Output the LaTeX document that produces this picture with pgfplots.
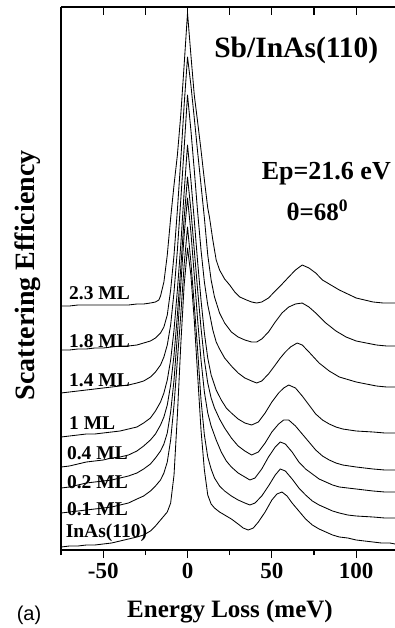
\documentclass[border=0pt]{standalone}
\usepackage{pgfplots}
\pgfplotsset{compat=1.18}
\usepackage{fontspec}
\setmainfont{Liberation Serif}
\newfontfamily\arialfont{Liberation Sans}
\begin{document}
\begin{tikzpicture}[x=1pt,y=1pt]
\useasboundingbox (0,0) rectangle (395,628);
\pgfplotsset{
  curve/.style={black, line width=0.85pt, mark=none, line join=round, solid},
}
\begin{axis}[
  at={(61pt,78pt)}, anchor=south west,
  width=334pt, height=543pt, scale only axis,
  xmin=-75, xmax=123, ymin=7, ymax=550, y dir=reverse,
  xtick={-50,0,50,100}, minor xtick={-75,-25,25,75},
  axis line style={line width=1.4pt},
  every tick/.style={black, line width=1.2pt},
  axis x line*=bottom, axis y line*=left,
  ytick=\empty,
  tick align=outside,
  major tick length=8pt, minor tick length=5pt,
  xticklabels={{-50},{0},{50},{100}},
  xticklabel style={font=\bfseries\fontsize{23}{23}\selectfont, yshift=-2pt},
  xlabel={Energy Loss (meV)},
  xlabel style={font=\bfseries\fontsize{25}{25}\selectfont, at={(axis description cs:0.506,-0.114)}, anchor=center},
  ylabel={Scattering Efficiency},
  ylabel style={font=\bfseries\fontsize{28}{28}\selectfont, at={(axis description cs:-0.0988,0.506)}, anchor=center},
  clip mode=individual,
]
% 2.3 ML
\addplot[curve] coordinates {(-75,306)(-70,306)(-65,305)(-60,305)(-55,305)(-50,305)(-45,305)(-40,305)(-35,305)(-30,304)(-26,304)(-22,303)(-19,302)(-17,300)(-16,296)(-14,282)(-12,255)(-10,218)(-8,185)(-6,155)(-4,115)(-2,65)(0,13)(2,55)(4,95)(6,122)(8,150)(10,180)(12,208)(13,217)(15,240)(17,260)(19,270)(22,279)(25,285)(28,292)(31,297)(35,300)(38,302)(41,303)(44,302)(48,298)(52,291)(55,286)(60,277)(64,270)(68,265)(72,268)(76,273)(80,280)(85,285)(90,290)(95,294)(100,298)(105,300)(110,302)(116,303)(123,303)};
% 1.8 ML
\addplot[curve] coordinates {(-75,350)(-70,350)(-65,349)(-60,349)(-55,348)(-50,348)(-45,347)(-40,346)(-35,346)(-30,345)(-26,343)(-22,341)(-19,338)(-16,333)(-14,327)(-12,315)(-10,290)(-8,255)(-6,210)(-4,160)(-2,105)(0,57)(2,85)(4,118)(6,152)(8,185)(10,218)(12,255)(14,280)(16,297)(19,313)(22,323)(26,332)(30,337)(34,340)(38,342)(41,342)(44,339)(48,332)(52,322)(56,313)(60,307)(64,304)(68,303)(72,307)(76,313)(82,323)(88,331)(94,337)(100,341)(106,343)(112,345)(118,346)(123,346)};
% 1.4 ML
\addplot[curve] coordinates {(-75,393)(-70,392)(-65,391)(-60,390)(-55,389)(-50,388)(-45,387)(-40,386)(-35,385)(-30,383)(-26,381)(-22,377)(-19,372)(-16,365)(-14,357)(-12,345)(-10,325)(-8,292)(-6,250)(-4,200)(-2,148)(0,95)(2,130)(4,170)(6,212)(8,250)(10,282)(12,305)(13,313)(15,330)(17,342)(19,349)(22,358)(26,366)(30,373)(34,378)(38,381)(41,383)(44,381)(48,374)(52,365)(55,358)(58,352)(61,347)(65,343)(68,345)(72,352)(78,363)(84,371)(90,377)(96,380)(100,382)(106,384)(112,386)(118,387)(123,387)};
% 1 ML
\addplot[curve] coordinates {(-75,437)(-70,436)(-65,435)(-60,434)(-55,434)(-50,433)(-45,432)(-40,431)(-35,429)(-30,427)(-26,423)(-22,418)(-19,411)(-16,402)(-14,393)(-12,380)(-10,360)(-8,330)(-6,290)(-4,245)(-2,192)(0,145)(2,180)(4,220)(6,262)(8,300)(10,333)(12,358)(14,375)(17,390)(20,400)(23,408)(26,413)(30,419)(34,423)(38,425)(42,422)(46,413)(50,402)(54,393)(57,388)(60,385)(64,388)(68,396)(72,405)(76,414)(80,420)(84,424)(88,427)(92,429)(96,430)(100,431)(110,432)(117,433)(123,433)};
% 0.4 ML
\addplot[curve] coordinates {(-75,467)(-70,466)(-65,464)(-60,462)(-55,461)(-50,460)(-45,458)(-40,457)(-35,455)(-30,451)(-26,446)(-22,440)(-19,434)(-16,425)(-14,417)(-12,405)(-10,385)(-8,355)(-6,315)(-4,268)(-2,218)(0,177)(2,210)(4,250)(6,290)(8,328)(10,360)(12,383)(14,398)(16,408)(19,419)(22,428)(26,438)(30,446)(34,451)(38,455)(42,452)(46,443)(50,432)(54,424)(57,420)(60,420)(64,426)(68,434)(72,442)(76,450)(80,456)(84,460)(88,463)(92,465)(96,466)(100,467)(110,469)(117,470)(123,470)};
% 0.2 ML
\addplot[curve] coordinates {(-75,488)(-70,487)(-65,485)(-60,483)(-55,482)(-50,481)(-45,480)(-40,478)(-35,476)(-30,473)(-26,469)(-22,464)(-19,458)(-16,451)(-14,444)(-12,433)(-10,412)(-8,380)(-6,335)(-4,285)(-2,235)(0,198)(2,232)(4,275)(6,320)(8,360)(10,392)(12,413)(14,426)(17,440)(20,452)(23,461)(26,467)(30,473)(34,477)(37,480)(40,478)(44,469)(48,457)(52,447)(55,442)(58,444)(62,452)(66,462)(70,469)(74,474)(78,479)(82,482)(86,485)(90,487)(95,488)(100,489)(110,491)(117,492)(123,492)};
% 0.1 ML
\addplot[curve] coordinates {(-75,513)(-70,512)(-65,511)(-60,510)(-55,509)(-50,508)(-45,507)(-40,505)(-35,503)(-30,499)(-26,496)(-22,491)(-19,486)(-16,480)(-14,473)(-12,462)(-10,440)(-8,405)(-6,360)(-4,315)(-2,265)(0,227)(2,262)(4,305)(6,350)(8,400)(10,435)(12,457)(14,469)(16,478)(19,486)(22,491)(26,496)(30,500)(34,503)(37,505)(40,503)(44,496)(48,486)(52,475)(55,469)(58,471)(62,479)(66,488)(70,495)(74,501)(78,505)(82,508)(86,511)(90,513)(95,515)(100,516)(110,517)(117,518)(123,518)};
% InAs(110)
\addplot[curve] coordinates {(-75,547)(-70,546)(-65,546)(-60,545)(-55,545)(-50,544)(-45,543)(-40,541)(-35,539)(-30,537)(-26,535)(-22,531)(-19,526)(-16,520)(-14,516)(-12,512)(-10,503)(-8,475)(-6,415)(-4,345)(-2,285)(0,248)(2,275)(4,320)(6,375)(8,430)(10,470)(12,495)(14,504)(16,508)(19,512)(22,515)(26,519)(30,524)(33,528)(36,530)(39,528)(42,522)(46,512)(50,500)(53,494)(56,492)(59,496)(62,503)(66,511)(70,519)(74,525)(78,529)(82,532)(86,535)(90,537)(95,538)(100,540)(105,541)(110,542)(115,543)(120,543)(123,544)};
% labels
\begin{scope}[every node/.style={font=\bfseries\fontsize{19.5}{19.5}\selectfont, anchor=west, inner sep=0pt}]
\node at (axis cs:-70.3,293) {2.3 ML};
\node at (axis cs:-70.3,341) {1.8 ML};
\node at (axis cs:-70.3,380) {1.4 ML};
\node at (axis cs:-70.3,423) {1 ML};
\node at (axis cs:-71.5,453) {0.4 ML};
\node at (axis cs:-71.5,482) {0.2 ML};
\node at (axis cs:-71.5,509) {0.1 ML};
\node at (axis cs:-72.3,533) {InAs(110)};
\end{scope}
\node[font=\bfseries\fontsize{29.5}{29.5}\selectfont, inner sep=0pt] at (axis cs:64.5,50) {Sb/InAs(110)};
\node[font=\bfseries\fontsize{26}{26}\selectfont, inner sep=0pt] at (axis cs:82.3,174) {Ep=21.6 eV};
\node[font=\bfseries\fontsize{25}{25}\selectfont, inner sep=0pt] at (axis cs:77,210) {θ=68\textsuperscript{0}};
\end{axis}
% top spine with inward ticks (axis frame decoration)
\draw[black, line width=1.4pt] (61,621) -- (395,621);
\foreach \tk in {-50,-25,0,25,50,75,100} {
  \draw[black, line width=1.2pt] ({61+(\tk+75)*1.6869},621) -- ++(0,-8);
}
\node[font=\arialfont\fontsize{20}{20}\selectfont] at (29,13) {(a)};
\end{tikzpicture}
\end{document}
